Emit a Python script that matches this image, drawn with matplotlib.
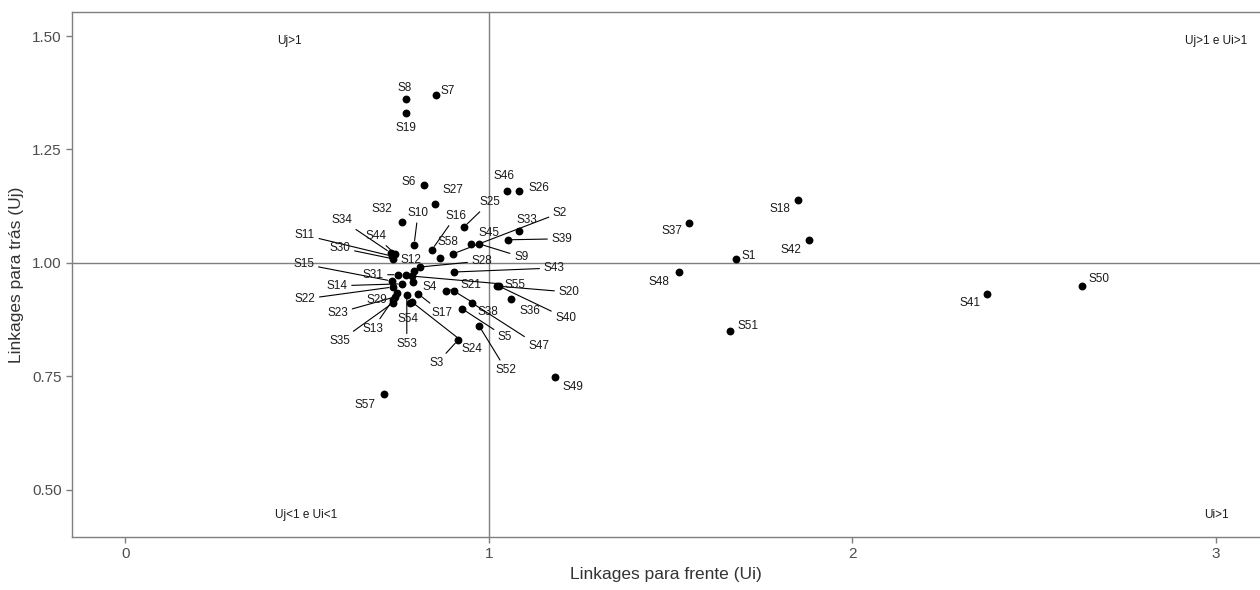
import matplotlib
matplotlib.use("Agg")
import matplotlib.pyplot as plt

# setores e indices de ligacao
setores = ["S1", "S2", "S3", "S4", "S5", "S6", "S7", "S8", "S9", "S10",
           "S11", "S12", "S13", "S14", "S15", "S16", "S17", "S18", "S19", "S20",
           "S21", "S22", "S23", "S24", "S25", "S26", "S27", "S28", "S29", "S30",
           "S31", "S32", "S33", "S34", "S35", "S36", "S37", "S38", "S39", "S40",
           "S41", "S42", "S43", "S44", "S45", "S46", "S47", "S48", "S49", "S50",
           "S51", "S52", "S53", "S54", "S55", "S56", "S57", "S58"]
ui = [1.680, 0.901, 0.915, 0.791, 0.926, 0.821, 0.854, 0.772, 0.973, 0.794,
      0.733, 0.794, 0.736, 0.761, 0.733, 0.843, 0.805, 1.850, 0.772, 1.022,
      0.882, 0.736, 0.741, 0.788, 0.931, 1.083, 0.851, 0.810, 0.747, 0.736,
      0.750, 0.761, 1.083, 0.730, 0.736, 1.061, 1.550, 0.904, 1.052, 1.027,
      2.370, 1.880, 0.904, 0.741, 0.950, 1.050, 0.953, 1.523, 1.182, 2.631,
      1.663, 0.973, 0.774, 0.783, 0.788, 0.772, 0.711, 0.865]
uj = [1.009, 1.020, 0.830, 0.958, 0.899, 1.172, 1.370, 1.361, 1.042, 1.040,
      1.015, 0.982, 0.919, 0.954, 0.960, 1.029, 0.932, 1.139, 1.330, 0.949,
      0.938, 0.947, 0.925, 0.914, 1.079, 1.159, 1.130, 0.991, 0.934, 1.009,
      0.974, 1.090, 1.070, 1.022, 0.912, 0.921, 1.088, 0.938, 1.051, 0.949,
      0.932, 1.051, 0.980, 1.020, 1.042, 1.159, 0.912, 0.980, 0.749, 0.949,
      0.850, 0.861, 0.930, 0.912, 0.971, 0.974, 0.711, 1.011]

# deslocamento dos rotulos (pixels), imitando o ggrepel
desloc = {
    "S1": (13, 3), "S2": (107, 41), "S3": (-21, -23), "S4": (17, -5), "S5": (43, -28),
    "S6": (-15, 3), "S7": (12, 4), "S8": (-1, 11), "S9": (42, -13), "S10": (4, 32),
    "S11": (-87, 21), "S12": (-3, 11), "S13": (-20, -29), "S14": (-65, -2), "S15": (-88, 17),
    "S16": (24, 34), "S17": (24, -19), "S18": (-18, -9), "S19": (0, -15), "S20": (72, -6),
    "S21": (25, 6), "S22": (-88, -12), "S23": (-57, -16), "S24": (60, -47), "S25": (26, 25),
    "S26": (20, 3), "S27": (18, 14), "S28": (62, 6), "S29": (-20, -7), "S30": (-53, 11),
    "S31": (-25, 0), "S32": (-20, 13), "S33": (8, 11), "S34": (-49, 33), "S35": (-53, -38),
    "S36": (19, -12), "S37": (-17, -8), "S38": (34, -21), "S39": (54, 1), "S40": (67, -32),
    "S41": (-17, -9), "S42": (-18, -10), "S43": (100, 4), "S44": (-19, 18), "S45": (18, 11),
    "S46": (-3, 15), "S47": (67, -43), "S48": (-20, -10), "S49": (18, -10), "S50": (17, 7),
    "S51": (18, 5), "S52": (27, -44), "S53": (0, -49), "S54": (-2, -16), "S55": (103, -9),
    "S57": (-19, -11), "S58": (8, 16),
}

quadrantes = ["Uj>1", "Uj>1 e Ui>1", "Uj<1 e Ui<1", "Ui>1"]
quad_x = [0.45, 3.0, 0.497, 3.0]
quad_y = [1.49, 1.49, 0.445, 0.445]

plt.rcParams['font.family'] = ['Liberation Sans', 'DejaVu Sans']

fig = plt.figure(figsize=(12.6, 5.9), dpi=100)
ax = fig.add_axes([72 / 1260, 53 / 590, 1 - 72 / 1260, 525 / 590])

ax.axhline(1, color="#7f7f7f", lw=1, zorder=1)
ax.axvline(1, color="#7f7f7f", lw=1, zorder=1)
ax.scatter(ui, uj, s=32, color="black", zorder=3, linewidths=0)

for nome, x, y in zip(setores, ui, uj):
    if nome not in desloc:
        continue
    dx, dy = desloc[nome]
    seta = None
    if (dx ** 2 + dy ** 2) ** 0.5 > 24:
        seta = dict(arrowstyle="-", color="black", lw=0.8, shrinkA=1, shrinkB=3)
    ax.annotate(nome, (x, y), xytext=(dx, dy), textcoords="offset pixels",
                ha="center", va="center", fontsize=8.5, color="#1a1a1a",
                arrowprops=seta, zorder=4)

for t, x, y in zip(quadrantes, quad_x, quad_y):
    ax.text(x, y, t, ha="center", va="center", fontsize=8.5, color="#1a1a1a")

ax.set_xlim(-0.147, 3.121)
ax.set_ylim(0.396, 1.553)
ax.set_xticks([0, 1, 2, 3])
ax.set_yticks([0.50, 0.75, 1.00, 1.25, 1.50])
ax.set_yticklabels(["0.50", "0.75", "1.00", "1.25", "1.50"])
ax.tick_params(colors="#7f7f7f", labelcolor="#4d4d4d", labelsize=11, length=4, width=1)
for lado in ["left", "bottom", "top"]:
    ax.spines[lado].set_color("#7f7f7f")
    ax.spines[lado].set_linewidth(1)
ax.spines["right"].set_visible(False)

ax.set_xlabel("Linkages para frente (Ui)", fontsize=12.5, color="#333333", labelpad=4)
ax.set_ylabel("Linkages para trás (Uj)", fontsize=12.5, color="#333333", labelpad=6)

fig.savefig("out.png", dpi=100)
